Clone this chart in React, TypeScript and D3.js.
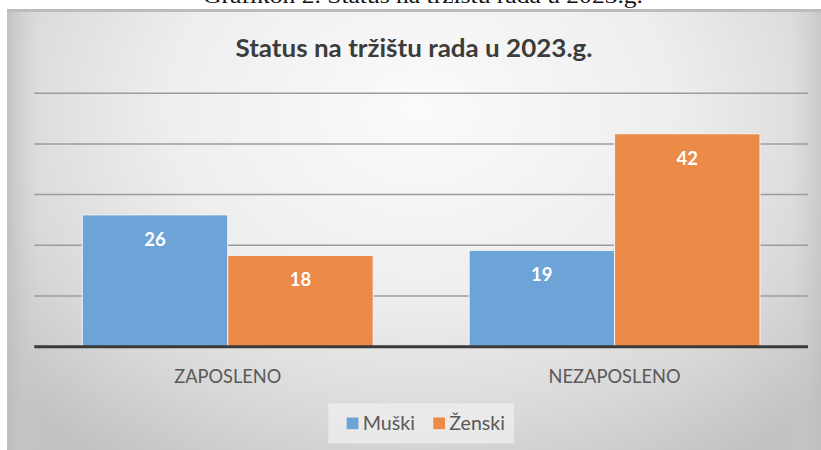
import React from "react";
import * as d3 from "d3";

const categories = ["ZAPOSLENO", "NEZAPOSLENO"];
const seriesNames = ["Muški", "Ženski"];
const muski = [26, 19];
const zenski = [18, 42];
const yTicks = [10, 20, 30, 40, 50];
const seriesColors = ["#6CA4D7", "#EC8A48"];

const W = 821;
const H = 450;

export default function App() {
  const x0 = d3
    .scaleBand<string>()
    .domain(categories)
    .range([34.3, 808])
    .paddingInner(0.248)
    .paddingOuter(0.124);
  const x1 = d3
    .scaleBand<string>()
    .domain(seriesNames)
    .range([0, x0.bandwidth()])
    .padding(0);
  const y = d3.scaleLinear().domain([0, 50]).range([346.7, 93.2]);
  const values = [muski, zenski];
  const font = "Lato, 'Open Sans', sans-serif";

  return (
    <svg
      width={W}
      height={H}
      style={{ position: "absolute", left: 0, top: 0, background: "#fff" }}
    >
      <defs>
        <radialGradient
          id="bg"
          gradientUnits="userSpaceOnUse"
          cx={420}
          cy={110}
          r={560}
          gradientTransform="translate(420 110) scale(1 0.75) translate(-420 -110)"
        >
          <stop offset="0" stopColor="#fbfbfb" />
          <stop offset="0.45" stopColor="#eeeeee" />
          <stop offset="0.75" stopColor="#d9d9d9" />
          <stop offset="1" stopColor="#c2c2c2" />
        </radialGradient>
        <linearGradient id="edge" x1="0" x2="1" y1="0" y2="0">
          <stop offset="0" stopColor="#bdbdbd" stopOpacity="0.8" />
          <stop offset="0.04" stopColor="#d0d0d0" stopOpacity="0" />
          <stop offset="0.96" stopColor="#d0d0d0" stopOpacity="0" />
          <stop offset="1" stopColor="#bdbdbd" stopOpacity="0.6" />
        </linearGradient>
      </defs>
      <text
        x={423}
        y={3}
        textAnchor="middle"
        fontFamily="'Liberation Serif', 'DejaVu Serif', serif"
        fontSize={21}
        fill="#111"
        textLength={440}
        lengthAdjust="spacingAndGlyphs"
      >
        Grafikon 2. Status na tržištu rada u 2023.g.
      </text>
      <rect x={7} y={9} width={W - 7} height={H - 9} fill="url(#bg)" />
      <rect x={7} y={9} width={W - 7} height={H - 9} fill="url(#edge)" />
      <rect x={7} y={9} width={W - 7} height={3} fill="#bcbcbc" />

      <text
        x={414}
        y={56.7}
        textAnchor="middle"
        fontFamily={font}
        fontWeight={700}
        fontSize={25}
        fill="#3c3c3c"
        textLength={357}
        lengthAdjust="spacingAndGlyphs"
      >
        Status na tržištu rada u 2023.g.
      </text>

      {yTicks.map((t) => (
        <line
          key={t}
          x1={34.3}
          x2={808}
          y1={y(t)}
          y2={y(t)}
          stroke="#9c9c9c"
          strokeWidth={1.5}
        />
      ))}

      {categories.map((c, ci) => (
        <g key={c} transform={`translate(${x0(c)},0)`}>
          {seriesNames.map((s, si) => {
            const v = values[si][ci];
            const bx = x1(s)!;
            const bw = x1.bandwidth();
            return (
              <g key={s}>
                <rect
                  x={bx}
                  y={y(v)}
                  width={bw}
                  height={y(0) - y(v)}
                  fill={seriesColors[si]}
                  stroke="#f4f4f4"
                  strokeWidth={1}
                />
                <text
                  x={bx + bw / 2}
                  y={y(v) + 31}
                  textAnchor="middle"
                  fontFamily={font}
                  fontWeight={700}
                  fontSize={18.5}
                  fill="#ffffff"
                >
                  {v}
                </text>
              </g>
            );
          })}
        </g>
      ))}

      <line
        x1={34.3}
        x2={808}
        y1={y(0)}
        y2={y(0)}
        stroke="#3a3a3a"
        strokeWidth={3}
      />

      {categories.map((c) => (
        <text
          key={c}
          x={x0(c)! + x0.bandwidth() / 2}
          y={382.7}
          textAnchor="middle"
          fontFamily={font}
          fontWeight={400}
          fontSize={20}
          fill="#595959"
          textLength={c === "ZAPOSLENO" ? 107 : 132}
          lengthAdjust="spacingAndGlyphs"
        >
          {c}
        </text>
      ))}

      <rect x={328.3} y={403.3} width={185.7} height={40} fill="#ececec" opacity={0.85} />
      {seriesNames.map((s, i) => {
        const sx = i === 0 ? 346.7 : 433.3;
        const tx = i === 0 ? 362.7 : 449.3;
        const tl = i === 0 ? 52.3 : 55.7;
        return (
          <g key={s}>
            <rect x={sx} y={417.5} width={11.7} height={11.7} fill={seriesColors[i]} />
            <text
              x={tx}
              y={430}
              fontFamily={font}
              fontSize={20}
              fill="#595959"
              textLength={tl}
              lengthAdjust="spacingAndGlyphs"
            >
              {s}
            </text>
          </g>
        );
      })}
    </svg>
  );
}
